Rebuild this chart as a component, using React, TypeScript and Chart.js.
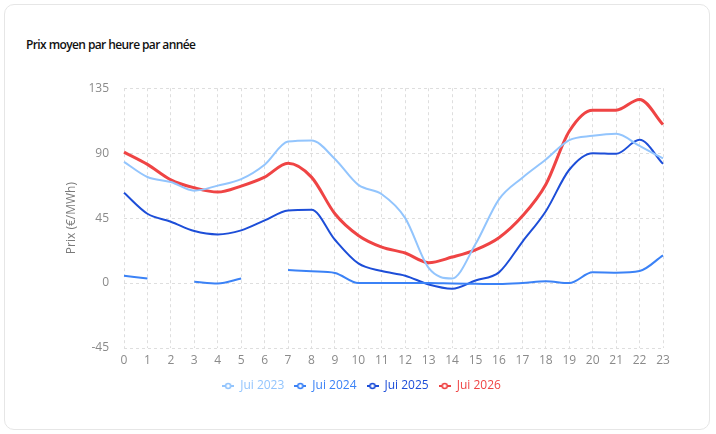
import React, { useEffect, useRef } from "react";
import { Chart, registerables } from "chart.js";

Chart.register(...registerables);

const hours = ["0","1","2","3","4","5","6","7","8","9","10","11","12","13","14","15","16","17","18","19","20","21","22","23"];

const jui2023 = [84, 73.5, 70, 64, 67.5, 72, 82, 98, 98.8, 86, 68, 61.5, 45, 10.5, 3.2, 27, 58, 73, 85.6, 99, 102, 103.4, 95, 86.3];
const jui2024 = [5, 3.2, null, 0.9, -0.3, 3.2, null, 9, 8.1, 7, 0, 0, 0, 0, -0.3, -0.5, -0.7, 0, 1.2, 0, 7.4, 7.2, 8.3, 19.2];
const jui2025 = [62.5, 48, 42.5, 36, 33.7, 36.5, 43.4, 50.3, 50.8, 30, 13.6, 8.3, 5.1, -1, -3.9, 1.8, 7.4, 28.6, 49.8, 78.5, 90, 89.5, 99.2, 82.6];
const jui2026 = [90.7, 82.2, 71.5, 66, 63, 67.2, 73.4, 83, 73.4, 48, 33, 24.9, 20.8, 14.1, 18, 23, 31.4, 46.4, 68.3, 105.2, 119.8, 119.8, 127.2, 109.8];

const seriesNames = ["Jui 2023", "Jui 2024", "Jui 2025", "Jui 2026"];
const seriesColors = ["#93c5fd", "#3b82f6", "#1d4ed8", "#ef4444"];
const seriesWidths = [2, 2, 2, 3];

const yTicks = [-45, 0, 45, 90, 135];

const FONT = "'Open Sans', 'Noto Sans', sans-serif";

function legendIcon(color: string): HTMLCanvasElement {
  const c = document.createElement("canvas");
  c.width = 12;
  c.height = 8;
  const ctx = c.getContext("2d")!;
  ctx.strokeStyle = color;
  ctx.lineWidth = 2;
  ctx.beginPath();
  ctx.moveTo(0, 4);
  ctx.lineTo(12, 4);
  ctx.stroke();
  ctx.beginPath();
  ctx.arc(6, 4, 2.5, 0, Math.PI * 2);
  ctx.fillStyle = "#ffffff";
  ctx.fill();
  ctx.lineWidth = 1.6;
  ctx.stroke();
  return c;
}

export default function App() {
  const ref = useRef<HTMLCanvasElement | null>(null);

  useEffect(() => {
    if (!ref.current) return;
    const data = [jui2023, jui2024, jui2025, jui2026];
    const icons = seriesColors.map(legendIcon);
    const chart = new Chart(ref.current, {
      type: "line",
      data: {
        labels: hours,
        datasets: seriesNames.map((name, i) => ({
          label: name,
          data: data[i],
          borderColor: seriesColors[i],
          backgroundColor: seriesColors[i],
          borderWidth: seriesWidths[i],
          pointRadius: 0,
          pointHoverRadius: 0,
          cubicInterpolationMode: "monotone" as const,
          spanGaps: false,
          fill: false,
        })),
      },
      options: {
        responsive: false,
        animation: false,
        layout: { padding: { top: 13, right: 37, bottom: 18, left: 40 } },
        plugins: {
          tooltip: { enabled: false },
          legend: {
            position: "bottom",
            labels: {
              usePointStyle: true,
              pointStyleWidth: 12,
              padding: 10,
              font: { family: FONT, size: 12 },
              generateLabels: (ch: any) => {
                const items = Chart.defaults.plugins.legend.labels.generateLabels(ch);
                return items.map((it: any, i: number) => ({
                  ...it,
                  pointStyle: icons[i],
                  fontColor: seriesColors[i],
                }));
              },
            },
          },
        },
        scales: {
          x: {
            grid: { color: "#dedede", drawTicks: false },
            border: { display: false, dash: [3, 3] },
            ticks: { color: "#8a8a8a", padding: 5, maxRotation: 0, autoSkip: false, font: { family: FONT, size: 12 } },
            afterFit: (s: any) => { s.height = 22; },
          },
          y: {
            min: -45,
            max: 135,
            afterBuildTicks: (s: any) => { s.ticks = yTicks.map((v) => ({ value: v })); },
            grid: { color: "#dedede", drawTicks: false },
            border: { display: false, dash: [3, 3] },
            ticks: { color: "#8a8a8a", padding: 15, font: { family: FONT, size: 12 } },
            title: { display: true, text: "Prix (€/MWh)", color: "#7a7a7a", font: { family: FONT, size: 12 }, padding: 4 },
            afterFit: (s: any) => { s.width = 64; },
          },
        },
      },
    });
    return () => chart.destroy();
  }, []);

  return (
    <div
      style={{
        position: "absolute",
        left: 4,
        top: 4,
        width: 706,
        height: 426,
        boxSizing: "border-box",
        border: "1px solid #e6e6e6",
        borderRadius: 10,
        background: "#fff",
        fontFamily: FONT,
      }}
    >
      <div style={{ position: "absolute", left: 21, top: 31, fontSize: 12, fontWeight: 600, color: "#111", letterSpacing: -0.6 }}>
        Prix moyen par heure par année
      </div>
      <canvas ref={ref} width={680} height={354} style={{ position: "absolute", left: 15, top: 61 }} />
    </div>
  );
}
